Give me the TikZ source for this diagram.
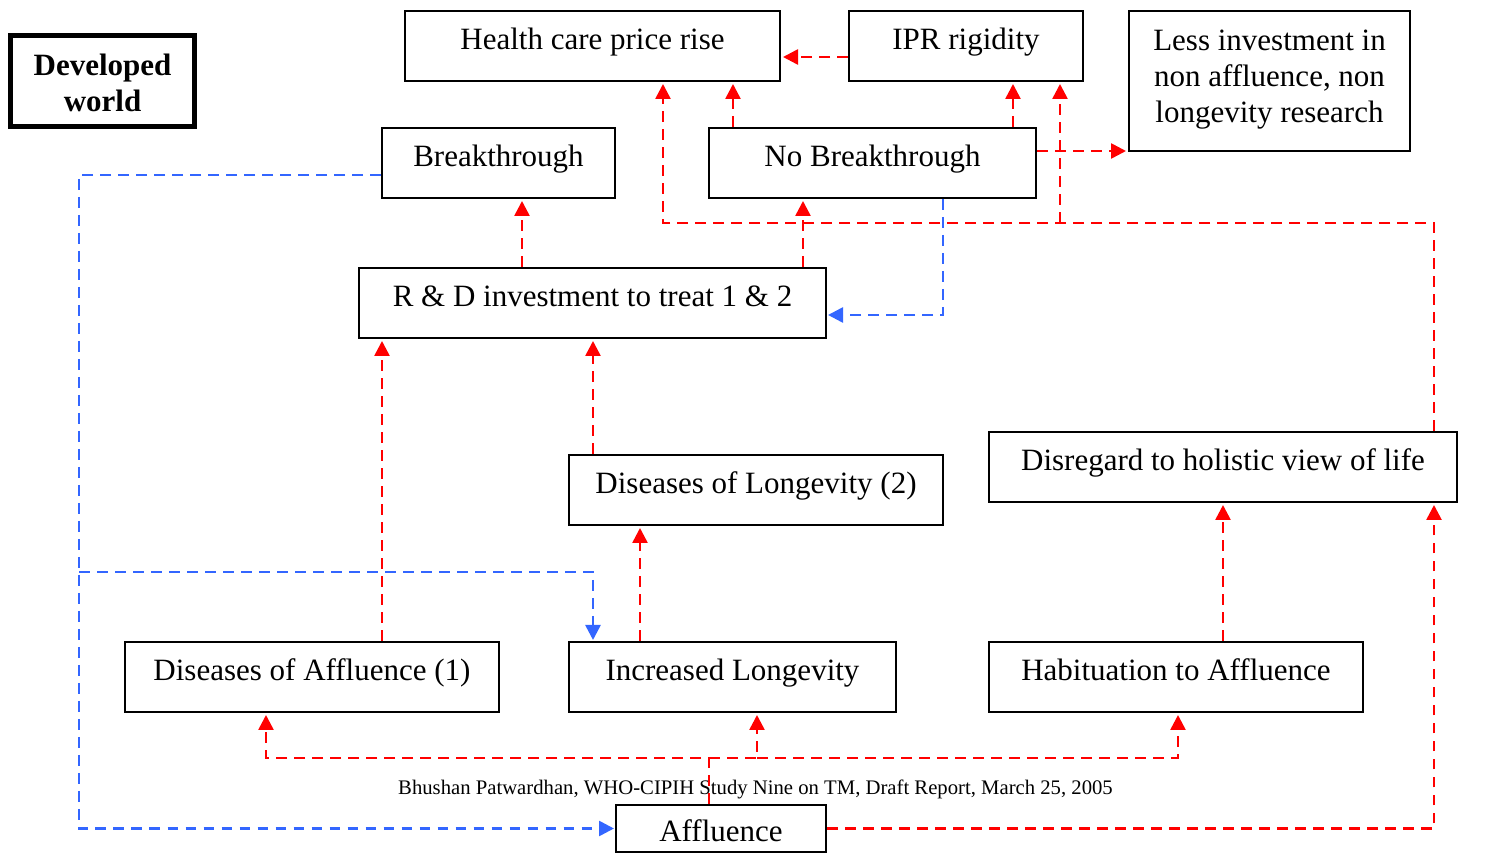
\documentclass[tikz,border=0pt]{standalone}
\usepackage{fontspec}
\setmainfont{Liberation Serif}
\usetikzlibrary{arrows.meta}
\definecolor{linkred}{RGB}{255,0,0}
\definecolor{linkblue}{RGB}{51,102,255}

\begin{document}
\begin{tikzpicture}[x=0.5pt,y=-0.5pt,
  frame/.style={draw, line width=1pt, inner sep=0pt,
    font=\fontsize{15.5}{18}\selectfont},
  box/.style={frame, text height=10pt, text depth=6pt},
  link/.style={line width=1.3pt, dash pattern=on 5.4pt off 3.6pt,
    -{Triangle[length=7.5pt,width=7.5pt]}},
  redlink/.style={link, draw=linkred, shorten >=1pt},
  bluelink/.style={link, draw=linkblue, shorten >=0.5pt},
]
\useasboundingbox (0,0) rectangle (1490,865);

% title box
\node[frame, line width=2.5pt, minimum width=92pt, minimum height=45.5pt,
  label={[name=devText, align=center, yshift=-1pt,
    font=\fontsize{15.5}{18}\selectfont\bfseries]center:Developed\\world}]
  (dev) at (102.5,81) {};

% top row
\node[box, minimum width=187.5pt, minimum height=35pt] (health) at (592.5,46) {Health care price rise};
\node[box, minimum width=117pt, minimum height=35pt] (ipr) at (966,46) {IPR rigidity};
\node[frame, minimum width=140.5pt, minimum height=70pt,
  label={[name=lessText, align=center, yshift=0.5pt,
    font=\fontsize{15.5}{18}\selectfont]center:Less investment in\\non affluence, non\\longevity research}]
  (less) at (1269.5,81) {};

% outcomes of research
\node[box, minimum width=116.5pt, minimum height=35pt] (breakthrough) at (498.5,163) {Breakthrough};
\node[box, minimum width=163.5pt, minimum height=35pt] (nobreak) at (872.5,163) {No Breakthrough};
\node[box, minimum width=233.5pt, minimum height=35pt] (rd) at (592.5,303) {R \& D investment to treat 1 \& 2};

% middle row
\node[box, minimum width=187pt, minimum height=35pt] (dislong) at (756,490) {Diseases of Longevity (2)};
\node[box, minimum width=234pt, minimum height=35pt] (disregard) at (1223,467) {Disregard to holistic view of life};

% bottom row
\node[box, minimum width=187pt, minimum height=35pt] (disaff) at (312,677) {Diseases of Affluence (1)};
\node[box, minimum width=163.5pt, minimum height=35pt] (inclong) at (732.5,677) {Increased Longevity};
\node[box, minimum width=187pt, minimum height=35pt] (habit) at (1176,677) {Habituation to Affluence};
\node[box, text height=13pt, text depth=0pt, minimum width=105pt, minimum height=23.5pt] (affluence) at (721,828.5) {Affluence};

% credit line
\node[font=\fontsize{10.35}{12}\selectfont, inner sep=0pt] (credit) at (755.5,789)
  {Bhushan Patwardhan, WHO-CIPIH Study Nine on TM, Draft Report, March 25, 2005};

% junction points
\coordinate (topbus) at (1060,223);
\coordinate (botsplitA) at (709,758);
\coordinate (botsplitB) at (757,758);
\coordinate (leftbus) at (79,572);

% red links
\draw[redlink] (ipr.west |- 0,57) -- (health.east |- 0,57);
\draw[redlink] (nobreak.north -| 733,0) -- (health.south -| 733,0);
\draw[redlink] (nobreak.north -| 1013,0) -- (ipr.south -| 1013,0);
\draw[redlink] (nobreak.east |- 0,151) -- (less.west |- 0,151);
\draw[redlink] (disregard.north -| 1434,0) -- (1434,223) -- (663,223) -- (health.south -| 663,0);
\draw[redlink] (topbus) -- (ipr.south -| topbus);
\draw[redlink] (rd.north -| 522,0) -- (breakthrough.south -| 522,0);
\draw[redlink] (rd.north -| 803,0) -- (nobreak.south -| 803,0);
\draw[redlink] (disaff.north -| 382,0) -- (rd.south -| 382,0);
\draw[redlink] (dislong.north -| 593,0) -- (rd.south -| 593,0);
\draw[redlink] (inclong.north -| 640,0) -- (dislong.south -| 640,0);
\draw[redlink] (habit.north -| 1223,0) -- (disregard.south -| 1223,0);
\draw[redlink] (affluence.east) -- (affluence.east -| 1434,0) -- (disregard.south -| 1434,0);
\draw[redlink] (affluence.north -| botsplitA) -- (botsplitA) -- (266,758) -- (disaff.south -| 266,0);
\draw[redlink] (botsplitA) -- (botsplitB) -- (inclong.south -| botsplitB);
\draw[redlink] (botsplitB) -- (1178,758) -- (habit.south -| 1178,0);

% blue links
\draw[bluelink] (breakthrough.west |- 0,175) -- (79,175) -- (affluence.west -| 79,0) -- (affluence.west);
\draw[bluelink] (leftbus) -- (593,572) -- (inclong.north -| 593,0);
\draw[bluelink] (nobreak.south -| 943,0) -- (943,315) -- (rd.east |- 0,315);
\end{tikzpicture}
\end{document}
